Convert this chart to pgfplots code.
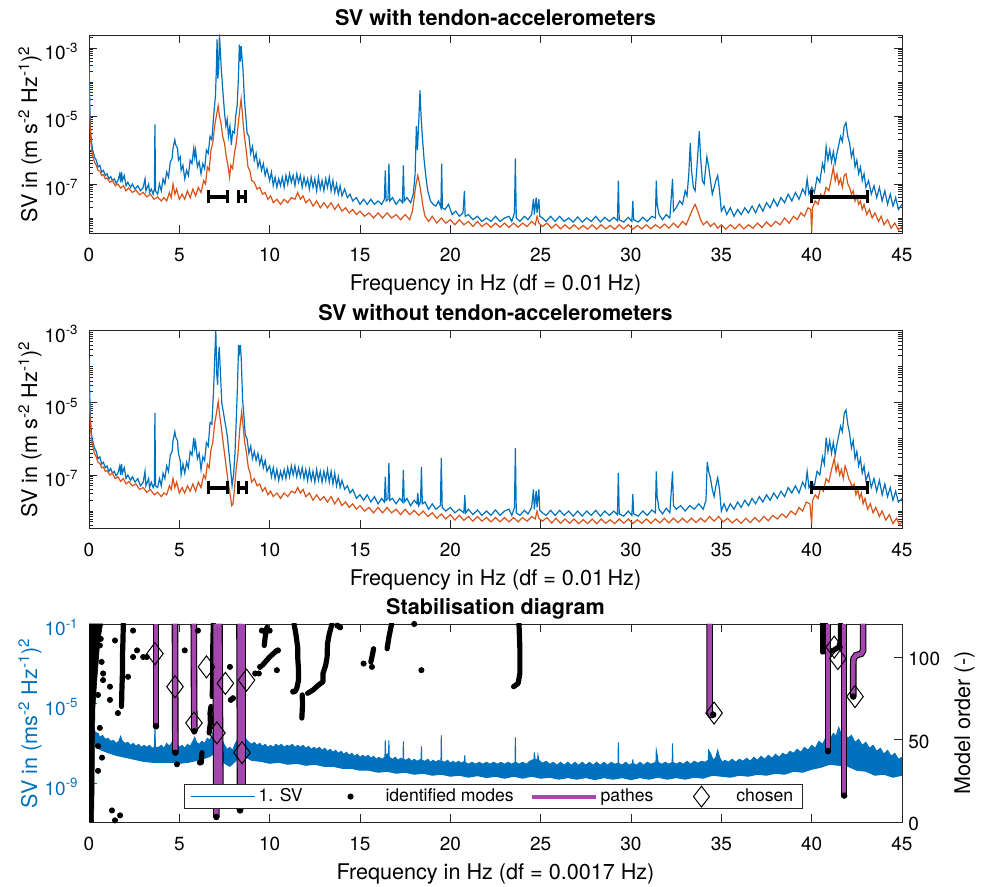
\documentclass[border=0pt]{standalone}
\usepackage{fontspec}
\setmainfont{TeX Gyre Heros}
\usepackage{pgfplots}
\pgfplotsset{compat=1.18}
\usepackage{pgfplotstable}
\definecolor{mblue}{RGB}{0,114,189}
\definecolor{morange}{RGB}{217,83,25}
\definecolor{mpurple}{RGB}{165,70,175}
\definecolor{axgray}{RGB}{38,38,38}

\pgfplotstableread{
x L
0 -3.4
0.03 -4.3
0.06 -5.0
0.1 -5.5
0.15 -5.8
0.2 -6.0
0.3 -6.2
0.4 -6.3
0.5 -6.5
0.6 -6.45
0.7 -6.65
0.8 -6.6
0.9 -6.75
1.0 -6.7
1.1 -6.85
1.2 -6.78
1.3 -6.9
1.4 -6.85
1.5 -6.98
1.6 -6.9
1.7 -6.7
1.75 -6.95
1.8 -6.65
1.85 -6.9
1.95 -6.75
2.05 -7.05
2.15 -6.95
2.3 -7.1
2.4 -7.0
2.55 -7.15
2.7 -7.05
2.85 -7.2
3.0 -7.1
3.1 -6.85
3.15 -7.2
3.3 -7.0
3.35 -7.25
3.45 -7.15
3.55 -7.3
3.62 -7.15
3.65 -5.25
3.68 -7.2
3.8 -7.3
3.9 -7.0
4.0 -7.2
4.1 -6.85
4.2 -7.0
4.3 -6.65
4.4 -6.8
4.5 -6.35
4.6 -6.25
4.65 -5.95
4.75 -5.7
4.8 -5.85
4.9 -5.95
4.95 -6.3
5.05 -6.2
5.1 -6.6
5.2 -6.45
5.3 -6.85
5.4 -6.6
5.5 -6.75
5.6 -6.3
5.7 -6.4
5.8 -5.95
5.85 -6.2
5.9 -6.0
6.0 -6.5
6.1 -6.35
6.2 -6.7
6.3 -6.4
6.4 -6.55
6.5 -6.0
6.6 -6.1
6.7 -5.6
6.8 -5.7
6.9 -5.0
7.0 -4.4
7.05 -3.6
7.09 -2.75
7.13 -3.9
7.18 -3.6
7.22 -2.6
7.26 -3.0
7.32 -3.6
7.4 -4.2
7.5 -4.9
7.58 -5.3
7.65 -5.1
7.72 -5.6
7.8 -5.3
7.88 -5.85
7.95 -5.45
8.05 -5.5
8.12 -5.0
8.2 -4.7
8.27 -3.9
8.32 -2.9
8.37 -3.4
8.42 -2.95
8.47 -3.3
8.52 -3.6
8.6 -4.5
8.68 -5.0
8.75 -5.5
8.85 -5.6
8.95 -6.1
9.05 -5.9
9.15 -6.3
9.25 -6.1
9.35 -6.5
9.45 -6.3
9.55 -6.6
9.65 -6.4
9.75 -6.75
9.85 -6.55
10.0 -6.9
10.1 -6.65
10.2 -7.05
10.3 -6.8
10.4 -7.1
10.5 -6.85
10.6 -7.05
10.7 -6.8
10.8 -7.1
10.9 -6.75
11.0 -7.0
11.1 -6.7
11.2 -6.95
11.3 -6.75
11.4 -7.05
11.5 -6.7
11.6 -6.95
11.7 -6.75
11.8 -7.1
11.9 -6.8
12.0 -7.05
12.1 -6.85
12.2 -7.15
12.3 -6.8
12.4 -7.1
12.5 -6.85
12.6 -7.2
12.7 -6.8
12.8 -7.15
12.9 -6.9
13.0 -7.2
13.1 -6.85
13.2 -7.1
13.3 -6.8
13.4 -7.2
13.5 -6.9
13.6 -7.25
13.7 -7.0
13.8 -7.3
13.9 -7.05
14.0 -7.35
14.15 -7.15
14.3 -7.4
14.45 -7.3
14.6 -7.5
14.8 -7.4
15.0 -7.6
15.2 -7.45
15.4 -7.6
15.6 -7.45
15.8 -7.6
16.0 -7.5
16.2 -7.6
16.35 -7.45
16.4 -6.6
16.45 -7.5
16.55 -7.45
16.6 -6.4
16.65 -7.5
16.8 -7.4
17.0 -7.6
17.2 -7.45
17.35 -7.55
17.4 -6.45
17.45 -7.5
17.6 -7.4
17.8 -7.55
17.95 -7.3
18.05 -6.7
18.12 -5.3
18.18 -6.0
18.25 -5.2
18.32 -4.25
18.38 -5.0
18.45 -5.6
18.55 -6.3
18.65 -6.8
18.75 -7.2
18.9 -7.5
19.05 -7.6
19.2 -7.65
19.35 -7.5
19.48 -7.7
19.52 -6.4
19.56 -7.7
19.7 -7.75
19.9 -7.6
20.1 -7.9
20.3 -7.8
20.5 -7.95
20.7 -7.85
20.78 -7.2
20.82 -7.95
21.0 -7.9
21.25 -8.05
21.5 -7.95
21.75 -8.1
22.0 -8.0
22.25 -8.1
22.5 -7.95
22.75 -8.1
23.0 -8.0
23.25 -7.95
23.4 -8.1
23.55 -7.85
23.6 -6.25
23.65 -8.0
23.85 -8.1
24.1 -7.95
24.3 -8.05
24.5 -7.9
24.6 -7.45
24.65 -7.9
24.75 -7.4
24.8 -7.85
24.9 -7.45
24.95 -7.95
25.1 -8.0
25.3 -8.1
25.55 -7.95
25.8 -8.1
26.05 -7.95
26.3 -8.1
26.55 -8.0
26.8 -8.12
27.05 -7.97
27.3 -8.12
27.55 -8.0
27.8 -8.1
28.05 -7.95
28.3 -8.12
28.55 -7.98
28.8 -8.1
29.05 -7.98
29.25 -8.08
29.3 -6.9
29.35 -8.05
29.6 -8.12
29.85 -7.98
30.05 -8.1
30.1 -7.5
30.15 -8.05
30.4 -8.12
30.65 -7.98
30.9 -8.1
31.15 -7.95
31.35 -8.0
31.4 -6.9
31.45 -7.6
31.55 -7.9
31.75 -8.05
31.95 -7.9
32.15 -8.0
32.3 -6.85
32.35 -7.8
32.5 -7.7
32.7 -7.5
32.85 -7.6
33.0 -7.2
33.1 -7.35
33.2 -6.7
33.28 -5.8
33.35 -6.6
33.45 -7.1
33.55 -7.2
33.65 -6.5
33.78 -5.45
33.85 -6.2
33.95 -6.9
34.05 -7.0
34.12 -6.6
34.2 -6.2
34.3 -6.5
34.4 -6.9
34.5 -7.3
34.6 -7.1
34.7 -6.9
34.8 -6.75
34.9 -7.2
35.0 -7.8
35.15 -7.65
35.3 -7.9
35.5 -7.7
35.7 -7.95
35.9 -7.75
36.1 -7.9
36.3 -7.7
36.5 -7.85
36.7 -7.65
36.9 -7.85
37.1 -7.6
37.3 -7.8
37.5 -7.55
37.7 -7.7
37.9 -7.45
38.1 -7.65
38.3 -7.4
38.5 -7.55
38.7 -7.3
38.9 -7.5
39.1 -7.25
39.3 -7.45
39.5 -7.15
39.65 -7.3
39.75 -6.85
39.85 -7.3
40.0 -7.1
40.15 -7.25
40.3 -6.8
40.45 -6.95
40.6 -6.4
40.7 -6.6
40.8 -5.9
40.9 -6.3
41.0 -6.0
41.1 -6.35
41.2 -6.05
41.3 -6.4
41.4 -6.1
41.5 -5.85
41.6 -5.6
41.7 -5.75
41.8 -5.3
41.9 -5.2
42.0 -5.6
42.1 -5.8
42.2 -6.2
42.3 -6.0
42.4 -6.5
42.5 -6.3
42.6 -6.7
42.7 -6.5
42.8 -6.9
42.9 -6.7
43.0 -7.1
43.15 -6.9
43.3 -7.3
43.45 -7.05
43.6 -7.4
43.75 -7.1
43.9 -7.5
44.05 -7.2
44.2 -7.6
44.35 -7.3
44.5 -7.65
44.65 -7.4
44.8 -7.75
45.0 -7.6
}\topblue

\pgfplotstableread{
x L
0 -4.1
0.03 -4.8
0.06 -5.3
0.1 -5.75
0.15 -6.0
0.2 -6.15
0.3 -6.35
0.4 -6.45
0.5 -6.6
0.6 -6.62
0.7 -6.75
0.8 -6.72
0.9 -6.85
1.0 -6.82
1.15 -6.95
1.3 -6.9
1.45 -7.05
1.6 -7.0
1.75 -7.12
1.9 -7.05
2.05 -7.2
2.2 -7.12
2.4 -7.25
2.6 -7.18
2.8 -7.32
3.0 -7.25
3.2 -7.38
3.4 -7.3
3.6 -7.45
3.8 -7.38
4.0 -7.5
4.15 -7.4
4.3 -7.5
4.45 -7.25
4.55 -7.4
4.65 -7.0
4.75 -7.3
4.85 -7.15
5.0 -7.45
5.15 -7.3
5.3 -7.45
5.45 -7.2
5.6 -7.4
5.75 -7.15
5.9 -7.35
6.05 -7.1
6.2 -7.25
6.35 -6.9
6.45 -7.0
6.55 -6.5
6.65 -6.6
6.75 -6.0
6.85 -5.8
6.95 -5.3
7.05 -5.0
7.15 -4.7
7.22 -5.0
7.3 -5.2
7.4 -5.6
7.5 -5.8
7.6 -6.2
7.7 -6.5
7.78 -6.8
7.85 -6.45
7.95 -6.55
8.05 -6.1
8.15 -5.8
8.25 -5.3
8.35 -4.8
8.42 -4.5
8.5 -5.0
8.6 -5.6
8.7 -6.0
8.8 -6.5
8.9 -6.6
9.0 -6.9
9.15 -6.95
9.3 -7.15
9.45 -7.1
9.6 -7.3
9.75 -7.25
9.9 -7.45
10.05 -7.35
10.2 -7.55
10.4 -7.45
10.6 -7.6
10.8 -7.45
11.0 -7.55
11.2 -7.4
11.4 -7.45
11.55 -7.25
11.7 -7.45
11.85 -7.35
12.0 -7.55
12.2 -7.45
12.4 -7.65
12.6 -7.5
12.8 -7.7
13.0 -7.55
13.2 -7.7
13.4 -7.55
13.6 -7.75
13.8 -7.6
14.0 -7.8
14.2 -7.7
14.4 -7.85
14.6 -7.75
14.8 -7.9
15.0 -7.8
15.25 -7.95
15.5 -7.85
15.75 -8.0
16.0 -7.85
16.25 -8.0
16.5 -7.85
16.75 -8.0
17.0 -7.9
17.25 -8.05
17.5 -7.9
17.75 -8.05
17.9 -7.8
18.0 -7.4
18.1 -7.0
18.2 -6.75
18.3 -7.0
18.4 -7.35
18.5 -7.7
18.6 -7.95
18.8 -8.1
19.0 -7.95
19.25 -8.15
19.5 -8.0
19.75 -8.15
20.0 -8.05
20.25 -8.2
20.5 -8.05
20.75 -8.2
21.0 -8.1
21.25 -8.25
21.5 -8.1
21.75 -8.25
22.0 -8.15
22.25 -8.28
22.5 -8.15
22.75 -8.27
23.0 -8.15
23.25 -8.28
23.5 -8.15
23.75 -8.27
24.0 -8.15
24.25 -8.25
24.5 -8.1
24.7 -8.2
24.8 -7.95
24.9 -8.15
25.1 -8.25
25.35 -8.15
25.6 -8.3
25.85 -8.18
26.1 -8.32
26.35 -8.2
26.6 -8.32
26.85 -8.2
27.1 -8.33
27.35 -8.22
27.6 -8.33
27.85 -8.2
28.1 -8.33
28.35 -8.2
28.6 -8.32
28.85 -8.22
29.1 -8.33
29.35 -8.2
29.6 -8.32
29.85 -8.2
30.1 -8.33
30.35 -8.22
30.6 -8.32
30.85 -8.2
31.1 -8.32
31.35 -8.2
31.6 -8.3
31.85 -8.18
32.1 -8.3
32.35 -8.15
32.6 -8.28
32.85 -8.1
33.05 -8.2
33.25 -7.95
33.4 -7.75
33.55 -7.6
33.7 -7.8
33.85 -8.05
34.0 -8.2
34.2 -8.1
34.4 -8.25
34.6 -8.15
34.8 -8.3
35.0 -8.2
35.25 -8.33
35.5 -8.2
35.75 -8.32
36.0 -8.18
36.25 -8.32
36.5 -8.2
36.75 -8.3
37.0 -8.15
37.25 -8.28
37.5 -8.12
37.75 -8.25
38.0 -8.1
38.25 -8.2
38.5 -8.0
38.75 -8.15
39.0 -7.95
39.2 -8.05
39.4 -7.85
39.6 -7.95
39.8 -7.7
39.95 -7.75
40.0 -8.4
40.05 -7.7
40.2 -7.5
40.35 -7.6
40.5 -7.3
40.65 -7.4
40.8 -7.1
40.95 -7.2
41.1 -6.8
41.2 -6.5
41.3 -6.9
41.4 -6.7
41.5 -7.0
41.6 -6.85
41.7 -7.1
41.8 -6.75
41.9 -6.7
42.0 -7.0
42.1 -7.1
42.2 -7.3
42.3 -7.2
42.4 -7.5
42.5 -7.35
42.6 -7.6
42.7 -7.5
42.8 -7.75
42.9 -7.6
43.05 -7.9
43.2 -7.75
43.35 -8.0
43.5 -7.85
43.7 -8.1
43.85 -7.95
44.0 -8.2
44.2 -8.05
44.4 -8.3
44.6 -8.15
44.8 -8.35
45.0 -8.25
}\toporange

\pgfplotstableread{
x L
0 -3.75
0.03 -4.5
0.06 -5.1
0.1 -5.6
0.15 -5.9
0.2 -6.05
0.3 -6.25
0.4 -6.35
0.5 -6.55
0.6 -6.5
0.7 -6.7
0.8 -6.65
0.9 -6.8
1.0 -6.75
1.1 -6.9
1.2 -6.82
1.3 -6.95
1.4 -6.9
1.5 -7.02
1.6 -6.95
1.7 -6.75
1.75 -7.0
1.8 -6.7
1.85 -6.95
1.95 -6.8
2.05 -7.1
2.15 -7.0
2.3 -7.15
2.4 -7.05
2.55 -7.2
2.7 -7.1
2.85 -7.3
3.0 -7.2
3.1 -6.9
3.15 -7.3
3.3 -7.1
3.35 -7.35
3.45 -7.2
3.55 -7.35
3.62 -7.25
3.65 -5.28
3.68 -7.3
3.8 -7.35
3.9 -7.1
4.0 -7.3
4.1 -6.95
4.2 -7.1
4.3 -6.75
4.4 -6.9
4.5 -6.45
4.6 -6.35
4.65 -6.05
4.75 -5.8
4.8 -5.95
4.9 -6.05
4.95 -6.4
5.05 -6.6
5.1 -7.0
5.2 -6.7
5.3 -6.95
5.4 -6.65
5.5 -6.8
5.6 -6.35
5.7 -6.45
5.8 -5.97
5.85 -6.25
5.9 -6.1
6.0 -6.55
6.1 -6.4
6.2 -6.85
6.3 -6.5
6.4 -6.6
6.5 -6.1
6.6 -6.2
6.7 -5.55
6.8 -5.6
6.9 -4.6
6.97 -3.6
7.02 -3.0
7.07 -4.2
7.12 -4.5
7.17 -3.7
7.21 -3.45
7.26 -4.0
7.35 -5.0
7.45 -5.3
7.55 -5.6
7.65 -5.9
7.75 -6.4
7.85 -6.9
7.92 -7.3
8.0 -7.0
8.08 -6.4
8.15 -5.5
8.22 -4.5
8.28 -3.4
8.33 -3.6
8.38 -3.4
8.43 -3.8
8.5 -4.9
8.58 -5.4
8.65 -5.9
8.75 -6.0
8.85 -6.4
8.95 -6.2
9.05 -6.55
9.15 -6.35
9.25 -6.6
9.35 -6.4
9.45 -6.7
9.55 -6.5
9.65 -6.8
9.75 -6.6
9.85 -6.9
10.0 -6.75
10.1 -7.05
10.2 -6.8
10.3 -7.1
10.4 -6.85
10.5 -7.15
10.6 -6.9
10.7 -7.1
10.8 -6.85
10.9 -7.1
11.0 -6.8
11.1 -7.05
11.2 -6.75
11.3 -7.0
11.4 -6.75
11.5 -7.05
11.6 -6.8
11.7 -7.05
11.8 -6.8
11.9 -7.1
12.0 -6.85
12.1 -7.15
12.2 -6.85
12.3 -7.15
12.4 -6.9
12.5 -7.2
12.6 -6.85
12.7 -7.15
12.8 -6.9
12.9 -7.2
13.0 -6.9
13.1 -7.15
13.2 -6.85
13.3 -7.2
13.4 -6.9
13.5 -7.25
13.6 -6.95
13.7 -7.3
13.8 -7.05
13.9 -7.35
14.0 -7.15
14.15 -7.4
14.3 -7.3
14.45 -7.5
14.6 -7.4
14.8 -7.65
15.0 -7.55
15.2 -7.7
15.4 -7.55
15.6 -7.75
15.8 -7.6
16.0 -7.8
16.2 -7.65
16.35 -7.75
16.4 -7.05
16.45 -7.7
16.55 -7.65
16.6 -6.67
16.65 -7.7
16.8 -7.65
17.0 -7.8
17.2 -7.65
17.35 -7.75
17.4 -6.86
17.45 -7.75
17.6 -7.65
17.8 -7.85
18.0 -7.7
18.15 -7.8
18.2 -7.5
18.25 -7.85
18.35 -7.75
18.4 -6.78
18.45 -7.8
18.6 -7.75
18.8 -7.95
19.0 -7.8
19.2 -7.95
19.45 -7.85
19.5 -6.53
19.55 -7.9
19.75 -8.0
20.0 -7.9
20.25 -8.05
20.5 -7.95
20.75 -8.05
20.8 -7.56
20.85 -8.05
21.0 -7.95
21.25 -8.1
21.5 -7.97
21.75 -8.12
22.0 -8.0
22.25 -8.12
22.5 -7.97
22.75 -8.12
23.0 -8.0
23.25 -7.95
23.4 -8.12
23.55 -7.9
23.6 -6.25
23.65 -8.05
23.85 -8.12
24.1 -7.98
24.3 -8.08
24.5 -7.9
24.6 -7.4
24.65 -7.95
24.75 -7.45
24.8 -7.9
24.9 -7.4
24.95 -7.98
25.1 -8.05
25.3 -8.12
25.55 -7.98
25.8 -8.12
26.05 -7.98
26.3 -8.12
26.55 -8.0
26.8 -8.14
27.05 -8.0
27.3 -8.14
27.55 -8.0
27.8 -8.12
28.05 -7.98
28.3 -8.14
28.55 -8.0
28.8 -8.12
29.05 -8.0
29.25 -8.1
29.3 -6.94
29.35 -8.08
29.6 -8.14
29.85 -8.0
30.05 -8.12
30.1 -7.53
30.15 -8.08
30.4 -8.14
30.65 -8.0
30.9 -8.12
31.15 -7.97
31.35 -8.05
31.4 -6.9
31.45 -7.6
31.55 -7.95
31.75 -8.08
31.95 -7.92
32.15 -8.05
32.3 -6.9
32.35 -7.85
32.5 -7.95
32.75 -7.85
33.0 -8.0
33.25 -7.85
33.5 -7.95
33.75 -7.8
34.0 -7.95
34.15 -7.7
34.22 -6.64
34.3 -6.9
34.4 -7.1
34.5 -7.4
34.6 -7.6
34.7 -7.3
34.8 -7.08
34.9 -7.4
35.0 -8.0
35.15 -7.8
35.3 -8.0
35.5 -7.8
35.7 -7.95
35.9 -7.75
36.1 -7.9
36.3 -7.7
36.5 -7.85
36.7 -7.65
36.9 -7.8
37.1 -7.6
37.3 -7.75
37.5 -7.55
37.7 -7.7
37.9 -7.5
38.1 -7.65
38.3 -7.45
38.5 -7.6
38.7 -7.35
38.9 -7.5
39.1 -7.3
39.3 -7.5
39.5 -7.2
39.65 -7.35
39.75 -6.9
39.85 -7.35
40.0 -7.2
40.15 -7.3
40.3 -6.9
40.45 -7.0
40.6 -6.5
40.7 -6.7
40.8 -5.97
40.9 -6.35
41.0 -6.05
41.1 -6.4
41.2 -6.1
41.3 -6.45
41.4 -6.15
41.5 -5.9
41.6 -5.65
41.7 -5.8
41.8 -5.3
41.9 -5.2
42.0 -5.6
42.1 -5.85
42.2 -6.25
42.3 -6.05
42.4 -6.55
42.5 -6.35
42.6 -6.75
42.7 -6.55
42.8 -6.95
42.9 -6.75
43.0 -7.15
43.15 -6.95
43.3 -7.35
43.45 -7.1
43.6 -7.45
43.75 -7.15
43.9 -7.55
44.05 -7.25
44.2 -7.6
44.35 -7.35
44.5 -7.7
44.65 -7.45
44.8 -7.75
45.0 -7.65
}\midblue

\pgfplotstableread{
x L
0 -4.7
0.03 -5.1
0.06 -5.45
0.1 -5.8
0.15 -6.05
0.2 -6.2
0.3 -6.4
0.4 -6.5
0.5 -6.65
0.6 -6.68
0.7 -6.8
0.8 -6.78
0.9 -6.9
1.0 -6.88
1.15 -7.0
1.3 -6.95
1.45 -7.1
1.6 -7.05
1.75 -7.18
1.9 -7.1
2.05 -7.25
2.2 -7.18
2.4 -7.3
2.6 -7.25
2.8 -7.4
3.0 -7.35
3.2 -7.48
3.4 -7.4
3.6 -7.55
3.8 -7.48
4.0 -7.6
4.15 -7.5
4.3 -7.55
4.45 -7.3
4.55 -7.4
4.65 -7.1
4.75 -7.35
4.85 -7.2
5.0 -7.5
5.15 -7.35
5.3 -7.5
5.45 -7.3
5.6 -7.45
5.75 -7.25
5.9 -7.45
6.05 -7.2
6.2 -7.35
6.35 -7.0
6.45 -7.1
6.55 -6.7
6.65 -6.8
6.75 -6.3
6.85 -6.1
6.95 -5.6
7.05 -5.3
7.15 -4.97
7.22 -5.3
7.3 -5.6
7.4 -6.0
7.5 -6.4
7.6 -6.8
7.7 -7.2
7.8 -7.5
7.9 -7.85
7.97 -7.8
8.05 -7.4
8.15 -6.8
8.25 -6.4
8.35 -5.7
8.45 -5.25
8.52 -5.6
8.62 -6.1
8.72 -6.4
8.82 -6.8
8.92 -6.95
9.0 -7.2
9.15 -7.1
9.3 -7.3
9.45 -7.25
9.6 -7.45
9.75 -7.35
9.9 -7.55
10.05 -7.45
10.2 -7.6
10.4 -7.5
10.6 -7.65
10.8 -7.5
11.0 -7.6
11.2 -7.45
11.4 -7.5
11.55 -7.35
11.7 -7.5
11.85 -7.4
12.0 -7.6
12.2 -7.5
12.4 -7.7
12.6 -7.55
12.8 -7.7
13.0 -7.6
13.2 -7.75
13.4 -7.6
13.6 -7.8
13.8 -7.65
14.0 -7.85
14.2 -7.75
14.4 -7.9
14.6 -7.8
14.8 -7.95
15.0 -7.85
15.25 -8.0
15.5 -7.9
15.75 -8.05
16.0 -7.9
16.25 -8.05
16.5 -7.9
16.75 -8.05
17.0 -7.95
17.25 -8.1
17.5 -7.95
17.75 -8.1
18.0 -7.98
18.25 -8.12
18.5 -8.0
18.75 -8.15
19.0 -8.05
19.25 -8.2
19.5 -8.08
19.75 -8.22
20.0 -8.1
20.25 -8.25
20.5 -8.12
20.75 -8.26
21.0 -8.15
21.25 -8.28
21.5 -8.15
21.75 -8.28
22.0 -8.18
22.25 -8.3
22.5 -8.18
22.75 -8.3
23.0 -8.18
23.25 -8.3
23.5 -8.18
23.75 -8.3
24.0 -8.18
24.25 -8.28
24.5 -8.15
24.7 -8.22
24.8 -8.0
24.9 -8.2
25.1 -8.28
25.35 -8.18
25.6 -8.33
25.85 -8.2
26.1 -8.34
26.35 -8.22
26.6 -8.34
26.85 -8.22
27.1 -8.35
27.35 -8.24
27.6 -8.35
27.85 -8.22
28.1 -8.35
28.35 -8.22
28.6 -8.34
28.85 -8.24
29.1 -8.35
29.35 -8.22
29.6 -8.34
29.85 -8.22
30.1 -8.35
30.35 -8.24
30.6 -8.34
30.85 -8.22
31.1 -8.34
31.35 -8.22
31.6 -8.33
31.85 -8.2
32.1 -8.33
32.35 -8.2
32.6 -8.32
32.85 -8.2
33.1 -8.32
33.35 -8.2
33.6 -8.32
33.85 -8.2
34.1 -8.3
34.35 -8.15
34.6 -8.28
34.85 -8.15
35.1 -8.3
35.35 -8.2
35.6 -8.33
35.85 -8.22
36.1 -8.34
36.35 -8.2
36.6 -8.32
36.85 -8.18
37.1 -8.3
37.35 -8.15
37.6 -8.27
37.85 -8.12
38.1 -8.22
38.35 -8.08
38.6 -8.18
38.85 -8.0
39.1 -8.1
39.3 -7.9
39.5 -8.0
39.7 -7.75
39.9 -7.8
40.0 -8.35
40.05 -7.7
40.2 -7.55
40.35 -7.65
40.5 -7.35
40.65 -7.45
40.8 -7.1
40.95 -7.2
41.1 -6.85
41.25 -6.55
41.35 -6.9
41.45 -6.7
41.55 -7.0
41.65 -6.85
41.75 -7.1
41.85 -6.75
41.95 -6.9
42.05 -7.1
42.15 -7.2
42.25 -7.35
42.35 -7.25
42.45 -7.55
42.55 -7.4
42.65 -7.65
42.75 -7.5
42.85 -7.8
42.95 -7.65
43.1 -7.95
43.25 -7.8
43.4 -8.05
43.55 -7.9
43.75 -8.15
43.9 -8.0
44.1 -8.25
44.3 -8.1
44.5 -8.35
44.7 -8.2
44.85 -8.38
45.0 -8.3
}\midorange

% 1. SV of the stabilisation diagram: upper edge (left to right) then lower edge (right to left) of the dense band
\pgfplotstableread{
x L
0.15 -5.7
0.25 -6.2
0.35 -6.45
0.5 -6.5
0.6 -6.7
0.75 -6.6
0.9 -6.8
1.05 -6.75
1.2 -6.9
1.35 -6.85
1.5 -7.0
1.65 -6.9
1.75 -6.65
1.85 -6.9
2.0 -7.0
2.15 -6.95
2.3 -7.1
2.45 -7.0
2.6 -7.15
2.75 -7.05
2.9 -7.2
3.05 -7.1
3.2 -7.2
3.35 -7.1
3.5 -7.25
3.62 -7.2
3.65 -6.2
3.68 -7.2
3.85 -7.2
4.0 -7.1
4.15 -7.25
4.3 -7.0
4.45 -7.15
4.6 -6.95
4.75 -6.7
4.85 -7.0
5.0 -7.2
5.15 -7.1
5.3 -7.25
5.45 -7.05
5.6 -7.15
5.75 -6.9
5.85 -6.7
5.95 -6.95
6.1 -7.05
6.25 -6.9
6.4 -7.0
6.55 -6.75
6.7 -6.85
6.85 -6.5
7.0 -6.1
7.1 -6.4
7.2 -6.3
7.35 -6.8
7.5 -7.1
7.65 -7.3
7.8 -7.2
7.95 -7.35
8.1 -7.0
8.25 -6.8
8.4 -6.2
8.55 -6.5
8.7 -6.8
8.85 -6.95
9.0 -7.05
9.15 -6.95
9.3 -7.1
9.45 -7.0
9.6 -7.15
9.75 -7.05
9.9 -7.2
10.05 -7.1
10.2 -7.2
10.35 -7.05
10.5 -7.15
10.65 -7.05
10.8 -7.2
10.95 -7.1
11.1 -7.15
11.25 -7.05
11.4 -7.2
11.55 -7.1
11.7 -7.2
11.85 -7.1
12.0 -7.25
12.15 -7.15
12.3 -7.3
12.45 -7.2
12.6 -7.3
12.75 -7.2
12.9 -7.35
13.05 -7.25
13.2 -7.4
13.35 -7.3
13.5 -7.45
13.65 -7.35
13.8 -7.5
13.95 -7.4
14.1 -7.55
14.25 -7.45
14.4 -7.6
14.55 -7.5
14.7 -7.65
14.85 -7.55
15.0 -7.7
15.15 -7.6
15.3 -7.7
15.45 -7.6
15.6 -7.75
15.75 -7.65
15.9 -7.8
16.05 -7.7
16.2 -7.8
16.38 -7.7
16.4 -6.85
16.42 -7.6
16.58 -7.5
16.6 -6.85
16.62 -7.7
16.8 -7.8
16.95 -7.7
17.1 -7.85
17.25 -7.75
17.38 -7.8
17.4 -6.9
17.42 -7.8
17.55 -7.85
17.7 -7.75
17.85 -7.9
18.0 -7.8
18.15 -7.9
18.38 -7.8
18.4 -7.15
18.42 -7.85
18.6 -7.9
18.75 -7.8
18.9 -7.95
19.05 -7.85
19.2 -7.95
19.35 -7.85
19.48 -7.95
19.5 -6.6
19.52 -7.9
19.7 -7.95
19.85 -7.85
20.0 -8.0
20.15 -7.9
20.3 -8.0
20.45 -7.9
20.6 -8.0
20.78 -7.9
20.8 -7.6
20.82 -7.95
21.0 -8.05
21.2 -7.95
21.4 -8.05
21.6 -7.95
21.8 -8.05
22.0 -7.95
22.2 -8.05
22.4 -7.95
22.6 -8.05
22.8 -7.95
23.0 -8.05
23.2 -7.95
23.4 -8.05
23.58 -7.95
23.6 -6.7
23.62 -7.95
23.8 -8.05
24.0 -7.95
24.2 -8.05
24.4 -7.9
24.63 -7.8
24.65 -7.45
24.7 -7.85
24.83 -7.8
24.85 -7.6
24.9 -7.85
25.1 -8.0
25.3 -7.9
25.5 -8.05
25.7 -7.95
25.9 -8.1
26.1 -7.95
26.3 -8.1
26.5 -7.95
26.7 -8.1
26.9 -7.95
27.1 -8.1
27.3 -7.95
27.5 -8.1
27.7 -7.95
27.9 -8.1
28.1 -7.95
28.3 -8.1
28.5 -7.95
28.7 -8.1
28.9 -7.95
29.1 -8.05
29.28 -8.0
29.3 -6.95
29.32 -8.0
29.5 -8.1
29.7 -7.95
29.9 -8.1
30.08 -8.0
30.1 -7.8
30.12 -8.0
30.3 -8.1
30.5 -7.95
30.7 -8.1
30.9 -7.95
31.1 -8.05
31.38 -7.95
31.4 -7.35
31.45 -7.6
31.5 -7.95
31.7 -8.05
31.9 -7.95
32.1 -8.05
32.28 -7.95
32.3 -7.0
32.32 -7.95
32.5 -8.05
32.7 -7.95
32.9 -8.05
33.1 -7.9
33.3 -8.05
33.5 -7.9
33.7 -8.0
33.9 -7.9
34.1 -7.95
34.28 -7.85
34.3 -7.35
34.4 -7.5
34.55 -7.85
34.7 -7.7
34.8 -7.35
34.9 -7.7
35.05 -7.95
35.2 -7.85
35.4 -7.95
35.6 -7.8
35.8 -7.95
36.0 -7.8
36.2 -7.9
36.4 -7.75
36.6 -7.9
36.8 -7.7
37.0 -7.85
37.2 -7.65
37.4 -7.8
37.6 -7.6
37.8 -7.75
38.0 -7.55
38.2 -7.7
38.4 -7.5
38.6 -7.6
38.8 -7.4
39.0 -7.5
39.2 -7.3
39.4 -7.45
39.6 -7.2
39.8 -7.35
40.0 -7.1
40.2 -7.25
40.4 -6.9
40.6 -7.05
40.8 -6.7
41.0 -6.8
41.2 -6.5
41.35 -6.65
41.5 -6.2
41.65 -6.6
41.8 -6.45
42.0 -6.75
42.2 -6.6
42.4 -6.95
42.6 -6.8
42.8 -7.1
43.0 -6.95
43.2 -7.25
43.4 -7.1
43.6 -7.4
43.8 -7.25
44.0 -7.55
44.2 -7.35
44.4 -7.65
44.6 -7.5
44.8 -7.8
45.0 -7.7
45.0 -8.6
44.5 -8.7
44.0 -8.55
43.5 -8.6
43.0 -8.4
42.5 -8.35
42.0 -8.15
41.5 -8.1
41.0 -8.05
40.5 -8.2
40.0 -8.3
39.5 -8.45
39.0 -8.4
38.5 -8.55
38.0 -8.5
37.5 -8.6
37.0 -8.55
36.5 -8.65
36.0 -8.6
35.5 -8.7
35.0 -8.65
34.5 -8.6
34.0 -8.75
33.5 -8.7
33.0 -8.8
32.5 -8.72
32.0 -8.8
31.5 -8.7
31.0 -8.8
30.5 -8.72
30.0 -8.82
29.5 -8.72
29.0 -8.8
28.5 -8.72
28.0 -8.82
27.5 -8.72
27.0 -8.8
26.5 -8.72
26.0 -8.8
25.5 -8.7
25.0 -8.75
24.5 -8.65
24.0 -8.75
23.5 -8.65
23.0 -8.75
22.5 -8.65
22.0 -8.72
21.5 -8.62
21.0 -8.7
20.5 -8.6
20.0 -8.65
19.5 -8.55
19.0 -8.6
18.5 -8.5
18.0 -8.55
17.5 -8.45
17.0 -8.5
16.5 -8.4
16.0 -8.45
15.5 -8.35
15.0 -8.35
14.5 -8.25
14.0 -8.25
13.5 -8.15
13.0 -8.15
12.5 -8.05
12.0 -8.1
11.5 -8.0
11.0 -8.05
10.5 -7.95
10.0 -8.0
9.5 -7.9
9.0 -7.85
8.7 -7.7
8.4 -7.5
8.1 -7.9
7.8 -8.15
7.5 -8.0
7.2 -7.6
7.0 -7.45
6.7 -7.65
6.4 -7.75
6.0 -7.85
5.5 -7.95
5.0 -8.0
4.5 -7.95
4.0 -7.95
3.5 -7.95
3.0 -7.9
2.5 -7.8
2.0 -7.7
1.5 -7.6
1.0 -7.45
0.6 -7.3
0.35 -7.05
0.2 -6.5
0.15 -5.7
}\botsv

\pgfplotsset{
  matax/.style={
    scale only axis, width=406.5pt, height=99pt,
    xmin=0, xmax=45,
    xtick={0,5,10,15,20,25,30,35,40,45},
    xticklabels={0,5,10,15,20,25,30,35,40,45},
    tick align=inside, major tick length=4pt, minor tick length=2pt,
    axis line style={axgray, line width=0.45pt},
    every tick/.append style={axgray, line width=0.45pt},
    tick label style={font=\fontsize{9.5}{11}\selectfont},
    xticklabel style={anchor=base, inner sep=0pt, yshift=-14.5pt},
    yticklabel style={anchor=base east, inner sep=0pt, xshift=-5pt, yshift=-6pt},
    every axis x label/.style={at={([yshift=-29pt]axis description cs:0.5,0)}, anchor=base, font=\fontsize{10.8}{13}\selectfont},
    every axis y label/.style={at={([xshift=-26pt]axis description cs:0,0.5)}, anchor=base, rotate=90, font=\fontsize{10.8}{13}\selectfont},
    every axis title/.style={at={([yshift=4.5pt]axis description cs:0.5,1)}, anchor=base, font=\bfseries\fontsize{10.8}{13}\selectfont},
  },
  logminor/.style={
    minor ytick={2e-9,3e-9,4e-9,5e-9,6e-9,7e-9,8e-9,9e-9,1e-8,2e-8,3e-8,4e-8,5e-8,6e-8,7e-8,8e-8,9e-8,2e-7,3e-7,4e-7,5e-7,6e-7,7e-7,8e-7,9e-7,1e-6,2e-6,3e-6,4e-6,5e-6,6e-6,7e-6,8e-6,9e-6,2e-5,3e-5,4e-5,5e-5,6e-5,7e-5,8e-5,9e-5,1e-4,2e-4,3e-4,4e-4,5e-4,6e-4,7e-4,8e-4,9e-4,2e-3,3e-3},
  },
  col/.style={black, line width=2.6pt, line cap=round, line join=round, forget plot},
  pathO/.style={black, line width=3.3pt, forget plot},
  pathP/.style={mpurple, line width=2.2pt, forget plot},
  bar/.style={black, line width=2pt, forget plot},
  cap/.style={black, line width=1.5pt, forget plot},
  lgline/.style={legend image code/.code={\path[draw=none,fill=none] (0pt,-5pt) rectangle (32pt,5pt); \draw[mblue, line width=0.5pt] (0pt,0pt) -- (32pt,0pt);}},
  lgdot/.style={legend image code/.code={\path[draw=none,fill=none] (0pt,-5pt) rectangle (32pt,5pt); \fill[black] (16pt,0pt) circle (1.3pt);}},
  lgpath/.style={legend image code/.code={\path[draw=none,fill=none] (0pt,-5pt) rectangle (32pt,5pt); \draw[mpurple, line width=2pt] (0pt,0pt) -- (32pt,0pt);}},
  lgdiam/.style={legend image code/.code={\path[draw=none,fill=none] (0pt,-5pt) rectangle (32pt,5pt); \draw[black, line width=0.5pt] (16pt,5.2pt) -- (20pt,0pt) -- (16pt,-5.2pt) -- (12pt,0pt) -- cycle;}},
}

\begin{document}
\begin{tikzpicture}
\path[use as bounding box] (0,0) rectangle (492.5pt,443.5pt);

% ---------------- top ----------------
\begin{axis}[matax, logminor, at={(44.5pt,327pt)}, anchor=south west,
  ymode=log, ymin=3.62e-9, ymax=2.41e-3,
  ytick={1e-7,1e-5,1e-3},
  yticklabels={10\textsuperscript{-7},10\textsuperscript{-5},10\textsuperscript{-3}},
  title={SV with tendon-accelerometers},
  xlabel={Frequency in Hz (df = 0.01\,Hz)},
  ylabel={SV in (m s\textsuperscript{-2} Hz\textsuperscript{-1})\textsuperscript{2}}]
\addplot[mblue, line width=0.6pt] table[x=x, y expr={10^(\thisrow{L})}] {\topblue};
\addplot[morange, line width=0.6pt] table[x=x, y expr={10^(\thisrow{L})}] {\toporange};
\addplot[bar] coordinates {(6.64,4.2e-8) (7.64,4.2e-8)};
\addplot[cap] coordinates {(6.64,2.7e-8) (6.64,6.5e-8)};
\addplot[cap] coordinates {(7.64,2.7e-8) (7.64,6.5e-8)};
\addplot[bar] coordinates {(8.25,4.2e-8) (8.69,4.2e-8)};
\addplot[cap] coordinates {(8.25,2.7e-8) (8.25,6.5e-8)};
\addplot[cap] coordinates {(8.69,2.7e-8) (8.69,6.5e-8)};
\addplot[bar] coordinates {(40.0,4.2e-8) (43.1,4.2e-8)};
\addplot[cap] coordinates {(40.0,2.7e-8) (40.0,6.5e-8)};
\addplot[cap] coordinates {(43.1,2.7e-8) (43.1,6.5e-8)};
\end{axis}

% ---------------- middle ----------------
\begin{axis}[matax, logminor, at={(44.5pt,179.5pt)}, anchor=south west,
  ymode=log, ymin=3.39e-9, ymax=1.04e-3,
  ytick={1e-7,1e-5,1e-3},
  yticklabels={10\textsuperscript{-7},10\textsuperscript{-5},10\textsuperscript{-3}},
  title={SV without tendon-accelerometers},
  xlabel={Frequency in Hz (df = 0.01\,Hz)},
  ylabel={SV in (m s\textsuperscript{-2} Hz\textsuperscript{-1})\textsuperscript{2}}]
\addplot[mblue, line width=0.6pt] table[x=x, y expr={10^(\thisrow{L})}] {\midblue};
\addplot[morange, line width=0.6pt] table[x=x, y expr={10^(\thisrow{L})}] {\midorange};
\addplot[bar] coordinates {(6.6,4.4e-8) (7.64,4.4e-8)};
\addplot[cap] coordinates {(6.6,2.9e-8) (6.6,6.6e-8)};
\addplot[cap] coordinates {(7.64,2.9e-8) (7.64,6.6e-8)};
\addplot[bar] coordinates {(8.25,4.4e-8) (8.72,4.4e-8)};
\addplot[cap] coordinates {(8.25,2.9e-8) (8.25,6.6e-8)};
\addplot[cap] coordinates {(8.72,2.9e-8) (8.72,6.6e-8)};
\addplot[bar] coordinates {(39.97,4.4e-8) (43.1,4.4e-8)};
\addplot[cap] coordinates {(39.97,2.9e-8) (39.97,6.6e-8)};
\addplot[cap] coordinates {(43.1,2.9e-8) (43.1,6.6e-8)};
\end{axis}

% ---------------- bottom: left log axis ----------------
\begin{axis}[matax, at={(44.5pt,32.5pt)}, anchor=south west,
  ymode=log, ymin=1.12e-11, ymax=0.1,
  ytick={1e-9,1e-5,1e-1}, yminorticks=false, ytick pos=left,
  yticklabels={10\textsuperscript{-9},10\textsuperscript{-5},10\textsuperscript{-1}},
  yticklabel style={text=mblue},
  ytick style={mblue},
  title={Stabilisation diagram},
  xlabel={Frequency in Hz (df = 0.0017 Hz)},
  ylabel={SV in (ms\textsuperscript{-2} Hz\textsuperscript{-1})\textsuperscript{2}},
  ylabel style={text=mblue}]
\addplot[fill=mblue, draw=mblue, line width=0.5pt, line join=miter] table[x=x, y expr={10^(\thisrow{L})}] {\botsv} -- cycle;
\end{axis}

% ---------------- bottom: right model-order axis ----------------
\begin{axis}[scale only axis, width=406.5pt, height=99pt,
  at={(44.5pt,32.5pt)}, anchor=south west,
  xmin=0, xmax=45, ymin=0, ymax=120,
  xtick=\empty, ytick={0,50,100}, yticklabels={0,50,100},
  ytick pos=right, yticklabel pos=right,
  tick align=inside, major tick length=4pt,
  axis line style={axgray, line width=0.45pt},
  every tick/.append style={axgray, line width=0.45pt},
  tick label style={font=\fontsize{9.5}{11}\selectfont},
  yticklabel style={anchor=west, inner sep=0pt, xshift=3pt, yshift=-1pt},
  every axis y label/.style={at={([xshift=34pt]axis description cs:1,0.5)}, anchor=base, rotate=90, font=\fontsize{10.8}{13}\selectfont},
  ylabel={Model order (-)},
  legend style={at={(axis description cs:0.117,0.065)}, anchor=south west,
    draw=axgray, fill=white, line width=0.45pt,
    font=\fontsize{8.8}{10}\selectfont, inner xsep=3pt, inner ysep=0.5pt,
    nodes={inner sep=1.5pt},
    /tikz/every even column/.append style={column sep=6.5pt}},
  legend columns=4, legend cell align=left]
% dense block of modes near 0 Hz
\addplot[fill=black, draw=black, line width=0.3pt, forget plot] coordinates {(0,0) (0.25,0) (0.28,20) (0.3,50) (0.33,70) (0.45,89) (0.6,110) (0.75,120) (0,120)} \closedcycle;
% stable columns of identified modes
\addplot[col] coordinates {(1.8,70) (1.82,80) (1.85,90) (1.85,100) (1.88,110) (1.9,120)};
\addplot[col] coordinates {(6.65,54) (6.72,60) (6.7,66) (6.75,70)};
\addplot[col] coordinates {(6.22,36) (6.25,42)};
\addplot[col] coordinates {(6.82,76) (6.85,90) (6.85,105) (6.88,120)};
\addplot[col] coordinates {(9.85,118) (9.75,112) (9.7,107)};
\addplot[col] coordinates {(9.6,95) (10.0,100) (10.4,104)};
\addplot[col] coordinates {(11.35,120) (11.45,114) (11.55,106) (11.55,100) (11.6,92) (11.6,86) (11.5,81) (11.4,79)};
\addplot[col] coordinates {(11.8,77) (11.82,71) (11.78,63)};
\addplot[col] coordinates {(13.45,120) (13.3,114) (13.2,108) (13.18,100) (13.1,95) (12.95,90) (12.95,85) (12.7,83) (12.4,80) (12.1,78)};
\addplot[col] coordinates {(15.6,97) (15.7,102) (15.75,105)};
\addplot[col] coordinates {(16.5,105) (16.6,112) (16.75,120)};
\addplot[col] coordinates {(23.5,82) (23.75,84) (23.85,90) (23.85,105) (23.8,120)};
\addplot[col] coordinates {(40.6,103) (40.6,120)};
\addplot[col] coordinates {(40.75,103) (40.75,120)};
\addplot[col] coordinates {(40.9,103) (41.2,104) (41.5,106) (41.6,110) (41.6,120)};
% isolated identified modes
\addplot[only marks, mark=*, mark size=1.3pt, black, forget plot] coordinates {
(0.5,77) (0.6,57) (0.5,46) (0.5,31) (0.72,39) (0.6,107) (0.7,97) (0.78,86) (0.78,90) (0.65,111)
(1.27,7) (1.44,1) (1.72,4) (1.44,110) (2.44,116) (2.44,100) (2.66,104) (3.2,100) (3.0,100)
(2.16,88) (1.16,82) (1.16,74) (1.6,66) (5.3,104) (4.87,35) (6.14,36) (6.03,116)
(7.8,94) (7.85,74) (7.97,75) (9.47,94) (9.4,90) (9.57,116) (9.2,90) (10.4,92) (10.46,104)
(10.0,116) (11.3,79) (15.2,96) (15.66,94) (18.0,120) (18.4,92) (13.9,118) (13.75,119)};
% paths: outline then colour
\addplot[pathO] coordinates {(3.71,120) (3.71,58)};
\addplot[pathO] coordinates {(4.76,120) (4.77,80) (4.78,42)};
\addplot[pathO] coordinates {(5.8,120) (5.81,90) (5.83,55)};
\addplot[pathO] coordinates {(7.0,120) (7.03,60) (7.05,3)};
\addplot[pathO] coordinates {(7.22,120) (7.25,60) (7.28,15)};
\addplot[pathO] coordinates {(8.33,120) (8.35,60) (8.36,7)};
\addplot[pathO] coordinates {(8.5,120) (8.5,15)};
\addplot[pathO] coordinates {(34.35,120) (34.35,67) (34.45,65) (34.55,65)};
\addplot[pathO] coordinates {(40.9,120) (40.9,43)};
\addplot[pathO] coordinates {(41.8,120) (41.8,16)};
\addplot[pathO] coordinates {(42.85,120) (42.85,104) (42.75,102) (42.45,101) (42.32,99) (42.3,95) (42.3,76)};
\addplot[pathP] coordinates {(3.71,120) (3.71,58)};
\addplot[pathP] coordinates {(4.76,120) (4.77,80) (4.78,42)};
\addplot[pathP] coordinates {(5.8,120) (5.81,90) (5.83,55)};
\addplot[pathP] coordinates {(7.0,120) (7.03,60) (7.05,3)};
\addplot[pathP] coordinates {(7.22,120) (7.25,60) (7.28,15)};
\addplot[pathP] coordinates {(8.33,120) (8.35,60) (8.36,7)};
\addplot[pathP] coordinates {(8.5,120) (8.5,15)};
\addplot[pathP] coordinates {(34.35,120) (34.35,67) (34.45,65) (34.55,65)};
\addplot[pathP] coordinates {(40.9,120) (40.9,43)};
\addplot[pathP] coordinates {(41.8,120) (41.8,16)};
\addplot[pathP] coordinates {(42.85,120) (42.85,104) (42.75,102) (42.45,101) (42.32,99) (42.3,95) (42.3,76)};
% end points of the paths
\addplot[only marks, mark=*, mark size=1.4pt, black, forget plot] coordinates {
(3.71,58) (4.78,42) (5.83,55) (7.05,3) (8.36,7) (34.55,65) (40.9,43) (41.8,16) (42.3,76)};
% chosen modes
\addplot[only marks, mark=diamond, mark size=5.5pt, black, line width=0.5pt, forget plot] coordinates {
(3.65,102) (4.76,82) (5.81,60) (6.5,94) (7.08,54) (7.55,84) (8.47,42) (8.72,86) (34.6,66) (41.25,106) (41.45,99) (42.4,76)};
% legend
\addlegendimage{lgline}
\addlegendentry{1. SV}
\addlegendimage{lgdot}
\addlegendentry{identified modes}
\addlegendimage{lgpath}
\addlegendentry{pathes}
\addlegendimage{lgdiam}
\addlegendentry{chosen}
\end{axis}
\end{tikzpicture}
\end{document}
